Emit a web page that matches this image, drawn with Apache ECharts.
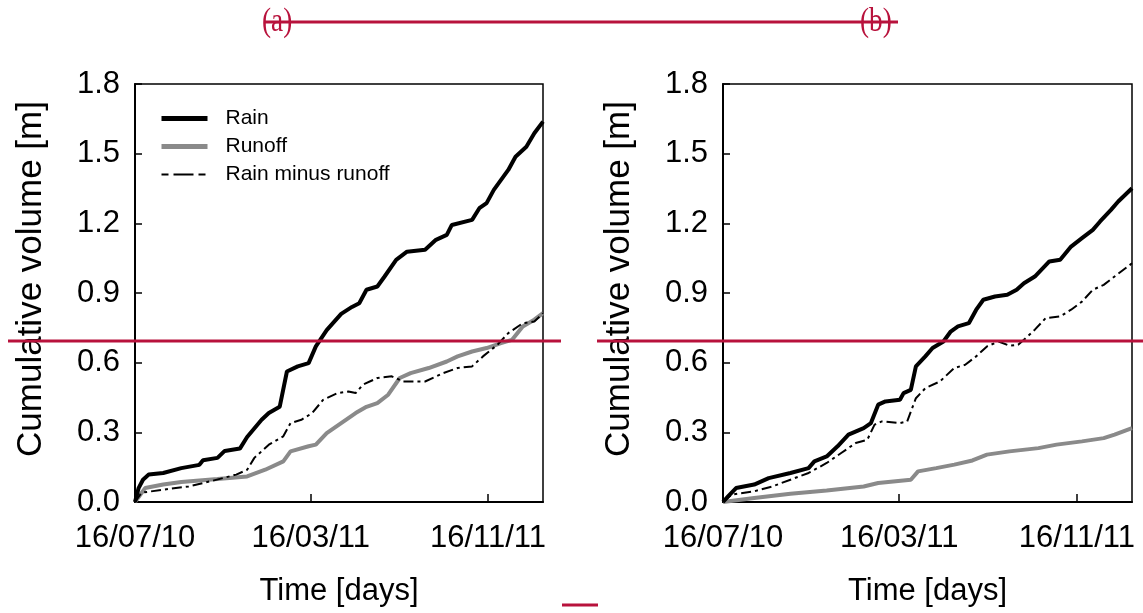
<!DOCTYPE html>
<html>
<head>
<meta charset="utf-8">
<script src="https://cdn.jsdelivr.net/npm/echarts@6/dist/echarts.min.js"></script>
<style>
html,body{margin:0;padding:0;background:#fff;}
#chart{width:1143px;height:613px;}
</style>
</head>
<body>
<div id="chart"></div>
<script>
// ---------- data (x = days since 16/07/10, y = cumulative volume in m) ----------
const seriesNames = ['Rain', 'Runoff', 'Rain minus runoff'];
const tickDays = [0, 243, 488];
const tickLabels = ['16/07/10', '16/03/11', '16/11/11'];
const yTicks = [0.0, 0.3, 0.6, 0.9, 1.2, 1.5, 1.8];
const panelLabels = ['(a)', '(b)'];

// Panel (a)
const rainDaysA = [0,5,11,19,39,64,89,94,114,124,145,155,175,185,200,210,225,240,250,265,285,300,310,320,335,345,361,376,401,416,431,438,466,476,486,496,516,526,541,552,564];
const rainA     = [0,0.06,0.096,0.118,0.125,0.146,0.16,0.18,0.19,0.22,0.23,0.28,0.354,0.383,0.41,0.562,0.584,0.598,0.67,0.74,0.81,0.84,0.856,0.914,0.928,0.971,1.043,1.078,1.086,1.129,1.15,1.193,1.215,1.265,1.287,1.344,1.43,1.487,1.53,1.588,1.638];
const runoffDaysA = [0,14,39,64,114,155,180,205,215,240,250,265,285,305,320,335,350,366,381,406,431,446,466,486,506,521,536,552,564];
const runoffA     = [0,0.06,0.075,0.086,0.099,0.11,0.139,0.175,0.218,0.24,0.247,0.297,0.34,0.383,0.41,0.426,0.462,0.534,0.555,0.577,0.605,0.627,0.648,0.663,0.684,0.698,0.756,0.785,0.813];
const diffDaysA = [0,9,39,74,104,140,155,165,185,205,215,230,245,260,280,295,305,315,335,355,371,401,426,446,466,481,501,516,536,552,564];
const diffA     = [0,0.04,0.053,0.067,0.089,0.118,0.139,0.19,0.247,0.283,0.34,0.354,0.383,0.44,0.469,0.476,0.469,0.505,0.534,0.541,0.519,0.519,0.555,0.577,0.584,0.627,0.677,0.727,0.77,0.777,0.813];

// Panel (b)
const rainDaysB = [0,7,18,43,63,93,118,126,143,158,173,194,204,214,224,244,249,259,266,279,289,304,314,324,339,349,359,375,392,405,415,430,450,465,480,495,510,520,535,545,564];
const rainB     = [0,0.024,0.06,0.075,0.103,0.125,0.146,0.175,0.196,0.24,0.29,0.318,0.34,0.419,0.433,0.44,0.469,0.483,0.584,0.627,0.663,0.691,0.734,0.756,0.77,0.827,0.871,0.885,0.892,0.914,0.942,0.971,1.036,1.043,1.1,1.136,1.172,1.208,1.258,1.294,1.351];
const runoffDaysB = [0,43,93,143,194,214,259,269,294,319,344,364,395,435,460,495,525,540,564];
const runoffB     = [0,0.017,0.036,0.05,0.067,0.082,0.096,0.132,0.146,0.161,0.179,0.204,0.218,0.232,0.247,0.261,0.275,0.29,0.318];
const diffDaysB = [0,12,43,68,93,118,143,163,183,199,209,219,244,254,266,279,299,319,334,349,364,380,395,407,420,430,445,465,480,495,510,525,540,564];
const diffB     = [0,0.032,0.046,0.067,0.096,0.125,0.168,0.211,0.254,0.268,0.333,0.347,0.34,0.347,0.447,0.49,0.519,0.577,0.591,0.627,0.67,0.691,0.673,0.677,0.713,0.742,0.792,0.799,0.828,0.863,0.914,0.935,0.971,1.028];

const xMaxDays = 564;

// ---------- chart ----------
const pairs = (xs, ys) => xs.map((x, i) => [x, ys[i]]);
const FONT = '"Liberation Sans", Arial, sans-serif';
const RED = '#b8123c';
const GREY = '#8a8a8a';
const DASHDOT = [10, 4, 3, 4];

function xAxisCfg(gi) {
  return {
    gridIndex: gi, type: 'value', min: 0, max: xMaxDays,
    name: 'Time [days]', nameLocation: 'middle', nameGap: 74,
    nameTextStyle: {fontFamily: FONT, fontSize: 31, color: '#000'},
    axisLine: {show: true, lineStyle: {color: '#000', width: 2}},
    axisTick: {show: true, inside: true, length: 8, lineStyle: {color: '#000', width: 1.5}, customValues: tickDays},
    axisLabel: {
      show: true, margin: 21, fontFamily: FONT, fontSize: 31, color: '#000',
      customValues: tickDays,
      formatter: v => { const i = tickDays.indexOf(v); return i >= 0 ? tickLabels[i] : ''; }
    },
    splitLine: {show: false}
  };
}
function yAxisCfg(gi) {
  return {
    gridIndex: gi, type: 'value', min: yTicks[0], max: yTicks[yTicks.length - 1], interval: 0.3,
    name: 'Cumulative volume [m]', nameLocation: 'middle', nameGap: 86,
    nameTextStyle: {fontFamily: FONT, fontSize: 35, color: '#000', padding: [0, 0, 0, 28]},
    axisLine: {show: true, lineStyle: {color: '#000', width: 2}},
    axisTick: {show: true, inside: true, length: 7, lineStyle: {color: '#000', width: 1.5}},
    axisLabel: {margin: 15, fontFamily: FONT, fontSize: 31, color: '#000', formatter: v => v.toFixed(1)},
    splitLine: {show: false}
  };
}
function seriesSet(gi, rd, r, od, o, dd, d) {
  return [
    {name: seriesNames[0], type: 'line', xAxisIndex: gi, yAxisIndex: gi, data: pairs(rd, r),
     symbol: 'none', lineStyle: {color: '#000', width: 4}, itemStyle: {color: '#000'}, z: 3},
    {name: seriesNames[1], type: 'line', xAxisIndex: gi, yAxisIndex: gi, data: pairs(od, o),
     symbol: 'none', lineStyle: {color: GREY, width: 4}, itemStyle: {color: GREY}, z: 2},
    {name: seriesNames[2], type: 'line', xAxisIndex: gi, yAxisIndex: gi, data: pairs(dd, d),
     symbol: 'none', lineStyle: {color: '#000', width: 2, type: DASHDOT}, itemStyle: {color: '#000'}, z: 4}
  ];
}

const chart = echarts.init(document.getElementById('chart'), null, {renderer: 'canvas'});
chart.setOption({
  animation: false,
  backgroundColor: '#fff',
  grid: [
    {left: 135, right: 600, top: 84, bottom: 111, show: true, borderColor: '#000', borderWidth: 1.5, backgroundColor: 'transparent'},
    {left: 723, right: 11, top: 84, bottom: 111, show: true, borderColor: '#000', borderWidth: 1.5, backgroundColor: 'transparent'}
  ],
  xAxis: [xAxisCfg(0), xAxisCfg(1)],
  yAxis: [yAxisCfg(0), yAxisCfg(1)],
  legend: {
    data: [
      {name: seriesNames[0], lineStyle: {width: 5, color: '#000'}},
      {name: seriesNames[1], lineStyle: {width: 5, color: GREY}},
      {name: seriesNames[2], lineStyle: {width: 2, color: '#000', type: [7, 5, 20, 5]}}
    ],
    orient: 'vertical', left: 154, top: 103, itemGap: 7,
    itemWidth: 46, itemHeight: 14,
    itemStyle: {opacity: 0, borderWidth: 0},
    textStyle: {fontFamily: FONT, fontSize: 21, color: '#000', padding: [0, 0, 0, 13]},
    selectedMode: false
  },
  series: [].concat(
    seriesSet(0, rainDaysA, rainA, runoffDaysA, runoffA, diffDaysA, diffA),
    seriesSet(1, rainDaysB, rainB, runoffDaysB, runoffB, diffDaysB, diffB)
  ),
  graphic: [
    {type: 'text', x: 262, y: 5, scaleX: 0.8, style: {text: panelLabels[0], font: '34px "Liberation Serif", serif', fill: RED}},
    {type: 'text', x: 860, y: 5, scaleX: 0.8, style: {text: panelLabels[1], font: '34px "Liberation Serif", serif', fill: RED}},
    {type: 'line', shape: {x1: 264, y1: 22, x2: 898, y2: 22}, style: {stroke: RED, lineWidth: 3}, z: 10},
    {type: 'line', shape: {x1: 8, y1: 341, x2: 561, y2: 341}, style: {stroke: RED, lineWidth: 3}, z: 10},
    {type: 'line', shape: {x1: 597, y1: 341, x2: 1143, y2: 341}, style: {stroke: RED, lineWidth: 3}, z: 10},
    {type: 'line', shape: {x1: 562, y1: 605, x2: 598, y2: 605}, style: {stroke: RED, lineWidth: 3}, z: 10}
  ]
});
</script>
</body>
</html>
